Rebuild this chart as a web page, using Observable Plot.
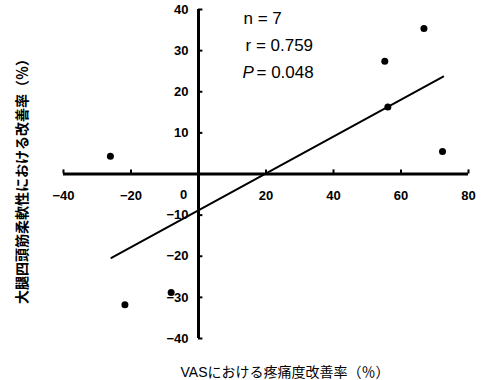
<!DOCTYPE html>
<html>
<head>
<meta charset="utf-8">
<script src="https://cdn.jsdelivr.net/npm/d3@7"></script>
<script src="https://cdn.jsdelivr.net/npm/@observablehq/plot@0.6"></script>
<style>
  html, body { margin: 0; padding: 0; background: #fff; }
</style>
</head>
<body>
<div id="chart"></div>
<script>
// Data
const vasImprovement = [-26.1, -21.8, -8.1, 55.2, 56.1, 66.8, 72.3];
const quadImprovement = [4.3, -31.8, -28.8, 27.4, 16.3, 35.4, 5.5];
const fitX = [-25.8, 72.5];
const fitY = [-20.4, 23.7];

const xTicks = [-40, -20, 20, 40, 60, 80];
const xTickLabels = ["−40", "−20", "20", "40", "60", "80"];
const yTicks = [40, 30, 20, 10, -10, -20, -30, -40];
const yTickLabels = ["40", "30", "20", "10", "−10", "−20", "−30", "−40"];
const zeroLabel = ["0"];

const statLines = ["n = 7", "r = 0.759"];
const pLabel = ["P"];
const pValue = ["= 0.048"];

const xTitle = "VASにおける疼痛度改善率（％）";
const yTitle = "大腿四頭筋柔軟性における改善率（％）";

const points = vasImprovement.map((x, i) => ({x, y: quadImprovement[i]}));
const fitLine = fitX.map((x, i) => ({x, y: fitY[i]}));

const font = "'Liberation Sans', Arial, 'Noto Sans CJK JP', sans-serif";

const chart = Plot.plot({
  width: 483,
  height: 380,
  marginLeft: 63,
  marginRight: 15,
  marginTop: 9,
  marginBottom: 42,
  style: {fontFamily: font, background: "#fff", color: "#000", overflow: "visible"},
  x: {domain: [-40, 80], axis: null},
  y: {domain: [-40, 40], axis: null},
  marks: [
    // axes crossing at origin
    Plot.ruleY([0], {x1: -40, x2: 80, stroke: "#000", strokeWidth: 3}),
    Plot.ruleX([0], {y1: -40, y2: 40, stroke: "#000", strokeWidth: 3}),
    // ticks
    Plot.ruleX(xTicks, {x: d => d, y1: 0, y2: 1, stroke: "#000", strokeWidth: 2}),
    Plot.ruleY(yTicks, {y: d => d, x1: 0, x2: 1.3, stroke: "#000", strokeWidth: 2}),
    // tick labels
    Plot.text(xTicks, {x: d => d, y: 0, text: (d, i) => xTickLabels[i], dy: 22,
      fontSize: 13, fontWeight: "bold", fill: "#000"}),
    Plot.text(zeroLabel, {x: 0, y: 0, text: d => d, dx: -15, dy: 21,
      fontSize: 13, fontWeight: "bold", fill: "#000"}),
    Plot.text(yTicks, {x: 0, y: d => d, text: (d, i) => yTickLabels[i], dx: -10,
      textAnchor: "end", fontSize: 13, fontWeight: "bold", fill: "#000"}),
    // regression line
    Plot.line(fitLine, {x: "x", y: "y", stroke: "#000", strokeWidth: 2}),
    // points
    Plot.dot(points, {x: "x", y: "y", r: 3.5, fill: "#000", stroke: "none"}),
    // statistics
    Plot.text([statLines[0]], {frameAnchor: "top-left", text: d => d, dx: 180, dy: 9,
      fontSize: 17, textAnchor: "start", lineAnchor: "middle", fill: "#000"}),
    Plot.text([statLines[1]], {frameAnchor: "top-left", text: d => d, dx: 182, dy: 36,
      fontSize: 17, textAnchor: "start", lineAnchor: "middle", fill: "#000"}),
    Plot.text(pLabel, {frameAnchor: "top-left", text: d => d, dx: 179, dy: 63,
      fontSize: 17, fontStyle: "italic", textAnchor: "start", lineAnchor: "middle", fill: "#000"}),
    Plot.text(pValue, {frameAnchor: "top-left", text: d => d, dx: 193, dy: 63,
      fontSize: 17, textAnchor: "start", lineAnchor: "middle", fill: "#000"}),
    // axis titles
    Plot.text([xTitle], {frameAnchor: "bottom", text: d => d, dx: 19, dy: 34,
      textAnchor: "middle", lineAnchor: "middle", fontSize: 14, fill: "#000"}),
    Plot.text([yTitle], {frameAnchor: "left", text: d => d, dx: -41, dy: 4,
      rotate: -90, textAnchor: "middle", lineAnchor: "middle",
      fontSize: 14, fontWeight: "bold", fill: "#000"})
  ]
});
document.getElementById("chart").appendChild(chart);
</script>
</body>
</html>
